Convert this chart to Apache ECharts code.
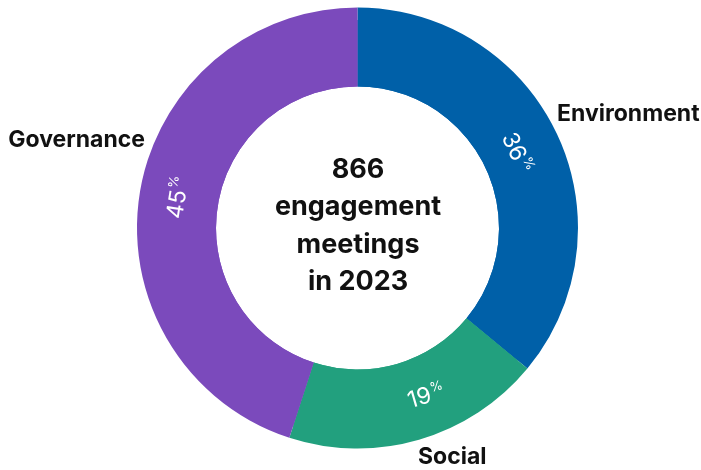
<!DOCTYPE html>
<html>
<head>
<meta charset="utf-8">
<script src="https://cdn.jsdelivr.net/npm/echarts@6/dist/echarts.min.js"></script>
<style>
    html, body { margin: 0; padding: 0; background: #fff; }
    #main { width: 701px; height: 470px; }
</style>
</head>
<body>
<div id="main"></div>
<script>
// 数据
var categories = ['Environment', 'Social', 'Governance'];
var shares = [36, 19, 45];
var colors = ['#0060a8', '#22a07e', '#7b4abc'];
var centerLines = ['866', 'engagement', 'meetings', 'in 2023'];

// 外部标签位置（像素）
var namePos = [
    { x: 557, y: 114, align: 'left' },
    { x: 418, y: 457, align: 'left' },
    { x: 145, y: 140, align: 'right' }
];
// 百分比标签微调
var pctShift = [
    { dx: 0, dy: 2 },
    { dx: 19, dy: 3 },
    { dx: 2, dy: -4 }
];

var fontName = 'Inter';
var chart = echarts.init(document.getElementById('main'));

var pieData = categories.map(function (name, i) {
    return { name: name, value: shares[i], itemStyle: { color: colors[i] } };
});

chart.setOption({
    animation: false,
    title: {
        text: centerLines.join('\n'),
        left: 358,
        top: 151,
        padding: 0,
        textAlign: 'center',
        textStyle: {
            fontFamily: fontName,
            fontSize: 27,
            fontWeight: 'bold',
            lineHeight: 37.5,
            color: '#111'
        }
    },
    series: [
        {
            type: 'pie',
            center: [357.5, 228],
            radius: [141.5, 220.5],
            startAngle: 90,
            clockwise: true,
            itemStyle: { borderColor: '#fff', borderWidth: 2 },
            label: { show: false },
            labelLine: { show: false },
            data: pieData
        },
        {
            // 百分比标签（透明环，稍微靠内）
            type: 'pie',
            silent: true,
            center: [357.5, 228],
            radius: [141.5, 208],
            startAngle: 90,
            clockwise: true,
            itemStyle: { color: 'rgba(0,0,0,0)' },
            label: {
                show: true,
                position: 'inside',
                rotate: 'tangential',
                formatter: function (p) {
                    return '{v|' + p.value + '}{p|%}';
                },
                rich: {
                    v: { fontFamily: fontName, fontSize: 23, color: '#fff', lineHeight: 26, verticalAlign: 'middle' },
                    p: { fontFamily: fontName, fontSize: 13, color: '#fff', lineHeight: 26, verticalAlign: 'top', padding: [0, 0, 0, 1] }
                }
            },
            labelLine: { show: false },
            labelLayout: function (params) {
                return pctShift[params.dataIndex];
            },
            data: pieData
        },
        {
            type: 'pie',
            silent: true,
            center: [357.5, 228],
            radius: [141.5, 220.5],
            startAngle: 90,
            clockwise: true,
            itemStyle: { color: 'rgba(0,0,0,0)' },
            label: {
                show: true,
                position: 'outside',
                formatter: '{b}',
                overflow: 'none',
                width: 300,
                fontFamily: fontName,
                fontSize: 23,
                fontWeight: 'bold',
                color: '#111'
            },
            labelLine: { show: false },
            labelLayout: function (params) {
                var p = namePos[params.dataIndex];
                return { x: p.x, y: p.y, align: p.align, verticalAlign: 'middle' };
            },
            data: pieData
        }
    ]
});
</script>
</body>
</html>
